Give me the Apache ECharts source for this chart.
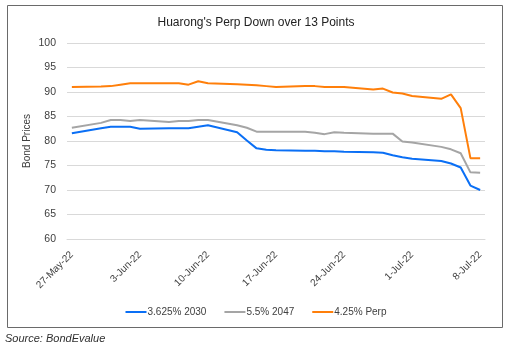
<!DOCTYPE html>
<html><head><meta charset="utf-8">
<script src="https://cdn.jsdelivr.net/npm/echarts@6/dist/echarts.min.js"></script>
<style>html,body{margin:0;padding:0;background:#fff;}#c{width:512px;height:352px;}</style>
</head><body><div id="c"></div>
<script>
const chartTitle = "Huarong's Perp Down over 13 Points";
const sourceText = "Source: BondEvalue";
const yAxisName = "Bond Prices";
const seriesNames = ['3.625% 2030', '5.5% 2047', '4.25% Perp'];
const tradeDates = [
  '2022-05-27','2022-05-30','2022-05-31','2022-06-01','2022-06-02','2022-06-03',
  '2022-06-06','2022-06-07','2022-06-08','2022-06-09','2022-06-10',
  '2022-06-13','2022-06-14','2022-06-15','2022-06-16','2022-06-17',
  '2022-06-20','2022-06-21','2022-06-22','2022-06-23','2022-06-24',
  '2022-06-27','2022-06-28','2022-06-29','2022-06-30','2022-07-01',
  '2022-07-04','2022-07-05','2022-07-06','2022-07-07','2022-07-08'
];
const bond2030 = [81.6,82.6,82.9,82.9,82.9,82.5, 82.6,82.6,82.6,82.9,83.2, 81.8,80.1,78.5,78.2,78.1, 78.0,78.0,77.9,77.9,77.8, 77.7,77.6,77.1,76.7,76.4, 75.9,75.4,74.6,70.9,70.0];
const bond2047 = [82.7,83.7,84.3,84.3,84.1,84.3, 83.9,84.1,84.1,84.3,84.3, 83.2,82.7,81.9,81.9,81.9, 81.9,81.7,81.4,81.8,81.7, 81.5,81.5,81.5,79.9,79.7, 78.8,78.3,77.5,73.6,73.5];
const bondPerp = [91.0,91.1,91.2,91.5,91.8,91.8, 91.8,91.8,91.5,92.2,91.8, 91.6,91.5,91.4,91.2,91.0, 91.2,91.2,91.0,91.0,91.0, 90.5,90.7,89.9,89.7,89.2, 88.6,89.5,86.7,76.5,76.5];
const axisStart = '2022-05-27';
const axisEnd = '2022-07-08';
const yMin = 60, yMax = 100, yStep = 5, xTickEveryDays = 7;
const monthNames = ['Jan','Feb','Mar','Apr','May','Jun','Jul','Aug','Sep','Oct','Nov','Dec'];

// Build a daily category axis (date axis like Excel)
const allDays = [];
const dayKeys = [];
for (let t = Date.parse(axisStart + 'T00:00:00Z'); t <= Date.parse(axisEnd + 'T00:00:00Z'); t += 86400000) {
  const d = new Date(t);
  dayKeys.push(d.toISOString().slice(0, 10));
  allDays.push(d.getUTCDate() + '-' + monthNames[d.getUTCMonth()] + '-' + String(d.getUTCFullYear()).slice(2));
}
function toDaily(vals) {
  const m = {};
  tradeDates.forEach((k, i) => { m[k] = vals[i]; });
  return dayKeys.map(k => (k in m ? m[k] : null));
}
const colors = ['#0a6ff5', '#a5a5a5', '#ff7f0a'];
const font = 'Liberation Sans';

const chart = echarts.init(document.getElementById('c'), null, {renderer: 'canvas'});
chart.setOption({
  animation: false,
  backgroundColor: '#fff',
  title: {
    text: chartTitle, left: 'center', top: 12,
    textStyle: {fontFamily: font, fontSize: 12, fontWeight: 'normal', color: '#222'}
  },
  legend: {
    bottom: 30, left: 'center', itemWidth: 21, itemHeight: 2, icon: 'rect', itemGap: 18,
    textStyle: {fontFamily: font, fontSize: 10, color: '#404040', padding: [0, 0, 0, -4]},
    data: seriesNames
  },
  grid: {left: 67, right: 27, top: 43, bottom: 113, containLabel: false},
  xAxis: {
    type: 'category', data: allDays, boundaryGap: true,
    axisLine: {lineStyle: {color: '#d9d9d9', width: 1}},
    axisTick: {length: 4, lineStyle: {color: '#d9d9d9'}, interval: (i) => i % xTickEveryDays === 0},
    axisLabel: {
      interval: (i) => i % xTickEveryDays === 0, rotate: 45, margin: 14,
      fontFamily: font, fontSize: 10, color: '#404040'
    }
  },
  yAxis: {
    type: 'value', min: yMin, max: yMax, interval: yStep,
    name: yAxisName, nameLocation: 'middle', nameGap: 35, nameMoveOverlap: false,
    nameTextStyle: {fontFamily: font, fontSize: 10, color: '#404040'},
    axisLine: {show: false}, axisTick: {show: false},
    axisLabel: {fontFamily: font, fontSize: 10.5, color: '#404040', margin: 11},
    splitLine: {lineStyle: {color: '#d9d9d9', width: 1}}
  },
  series: [bond2030, bond2047, bondPerp].map((vals, i) => ({
    name: seriesNames[i], type: 'line', data: toDaily(vals), connectNulls: true,
    symbol: 'none', showSymbol: false,
    lineStyle: {color: colors[i], width: 2}, itemStyle: {color: colors[i]}
  })),
  graphic: [
    {type: 'rect', shape: {x: 7.5, y: 5.5, width: 495, height: 322},
     style: {fill: 'none', stroke: '#6a6a6a', lineWidth: 1}, silent: true},
    {type: 'text', left: 5, top: 333,
     style: {text: sourceText, font: 'italic 11px "Liberation Sans"', fill: '#303030'}}
  ]
});
</script></body></html>
